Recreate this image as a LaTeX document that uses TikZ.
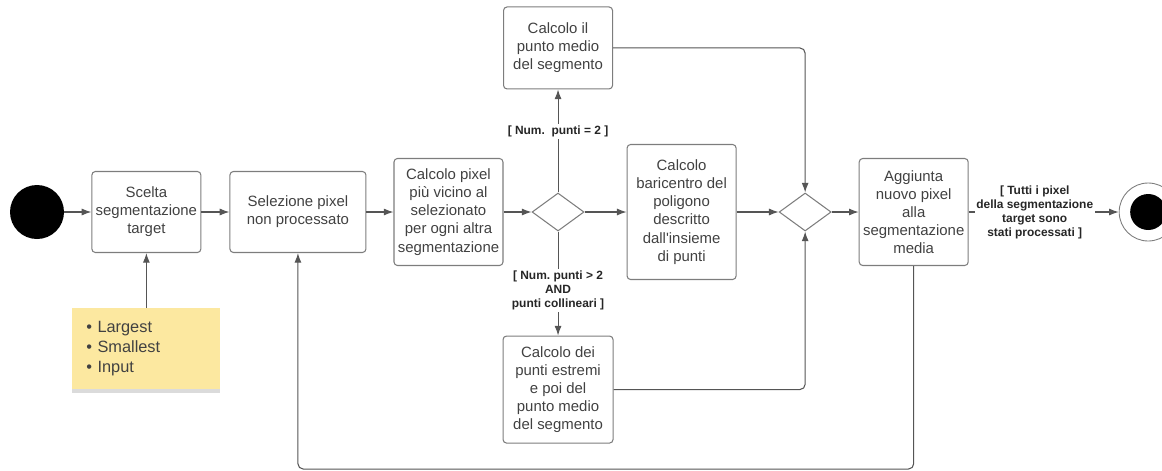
\documentclass[tikz,border=0pt]{standalone}
\usepackage{fontspec}
\setmainfont{Liberation Sans}
\usetikzlibrary{positioning,shapes.geometric,arrows.meta,shadows}
\definecolor{LineGray}{RGB}{85,85,85}
\definecolor{BoxGray}{RGB}{125,125,125}
\definecolor{TextGray}{RGB}{65,65,65}
\definecolor{NoteYellow}{RGB}{252,232,160}
\tikzset{
  act/.style={draw=BoxGray,rounded corners=2pt,line width=0.6pt,
              minimum width=2.18cm,minimum height=1.62cm,inner sep=1pt,
              align=center,text=TextGray,font=\fontsize{8.5}{10.3}\selectfont},
  dec/.style={diamond,draw=BoxGray,line width=0.6pt,
              minimum width=1.04cm,minimum height=0.76cm,inner sep=0pt},
  arr/.style={-{Latex[length=5.5pt,width=4pt]},LineGray,line width=0.6pt},
  guard/.style={fill=white,inner sep=1pt,align=center,text=black!85,
                font=\fontsize{6.8}{8}\selectfont\bfseries},
}

\begin{document}
\begin{tikzpicture}[
  node distance=0.55cm,
  initial/.style={circle,fill=black,minimum size=1.08cm,inner sep=0pt},
  final/.style={circle,draw=BoxGray,line width=0.5pt,minimum size=1.16cm,inner sep=0pt,
                path picture={\fill[black] (path picture bounding box.center) circle (0.36cm);}},
  note/.style={fill=NoteYellow,minimum height=1.62cm,text width=2.4cm,inner xsep=0.28cm,
               align=left,text=TextGray,font=\fontsize{9.3}{11.3}\selectfont,
               drop shadow={shadow xshift=0pt,shadow yshift=-2pt,fill=black!35,opacity=0.4}}
]
\useasboundingbox (-0.74,-5.16) rectangle (22.50,4.24);
\node[initial] (start) {};
\node[act, right=0.54cm of start] (scelta) {Scelta\\segmentazione\\target};
\node[act, minimum width=2.72cm, right=0.56cm of scelta] (selez) {Selezione pixel\\non processato};
\node[act, minimum height=2.14cm, right=0.54cm of selez] (calc) {Calcolo pixel\\più vicino al\\selezionato\\per ogni altra\\segmentazione};
\node[dec, right=0.56cm of calc] (dec1) {};
\node[act, minimum height=1.64cm, above=2.06cm of dec1] (medio) {Calcolo il\\punto medio\\del segmento};
\node[act, minimum width=2.2cm, minimum height=2.14cm, below=2.08cm of dec1] (estremi) {Calcolo dei\\punti estremi\\e poi del\\punto medio\\del segmento};
\node[act, minimum height=2.7cm, right=0.84cm of dec1] (bari) {Calcolo\\baricentro del\\poligono\\descritto\\dall\textquotesingle insieme\\di punti};
\node[dec, right=0.84cm of bari] (dec2) {};
\node[act, minimum height=2.14cm, right=0.54cm of dec2] (agg) {Aggiunta\\nuovo pixel\\alla\\segmentazione\\media};
\node[final, right=3.0cm of agg] (fine) {};
\node[note, below=1.1cm of scelta] (nota) {\textbullet\ Largest\\\textbullet\ Smallest\\\textbullet\ Input};
\coordinate[below=4.06cm of agg.south] (back);

\draw[arr] (start)--(scelta);
\draw[arr] (scelta)--(selez);
\draw[arr] (selez)--(calc);
\draw[arr] (calc)--(dec1);
\draw[arr] (dec1)--node[guard,pos=0.59]{[ Num.\ \ punti = 2 ]}(medio);
\draw[arr] (dec1)--node[guard,pos=0.57]{[ Num.\ punti > 2\\AND\\punti collineari ]}(estremi);
\draw[arr] (dec1)--(bari);
\draw[arr] (bari)--(dec2);
\draw[arr,rounded corners=3pt] (medio.east)-|(dec2.north);
\draw[arr,rounded corners=3pt] (estremi.east)-|(dec2.south);
\draw[arr] (dec2)--(agg);
\draw[arr] (agg)--node[guard,pos=0.44]{[ Tutti i pixel\\della segmentazione\\target sono\\stati processati ]}(fine);
\draw[arr] (nota)--(scelta);
\draw[arr,rounded corners=3pt] (agg.south)--(back)-|(selez.south);
\end{tikzpicture}
\end{document}
